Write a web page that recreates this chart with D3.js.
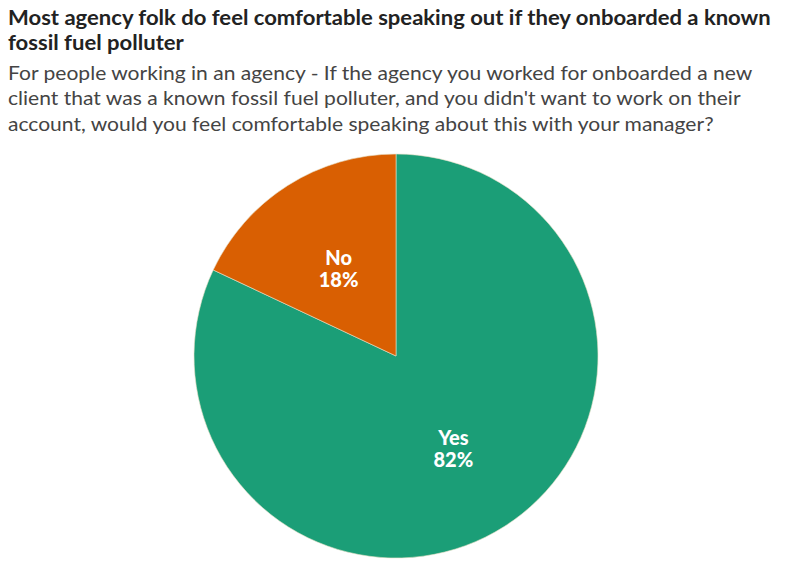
<!DOCTYPE html>
<html><head><meta charset="utf-8">
<script src="https://cdn.jsdelivr.net/npm/d3@7"></script>
<style>body{margin:0;background:#fff;} svg{display:block;}</style>
</head><body>
<svg id="chart" width="787" height="566"></svg>
<script>
const categories = ["Yes", "No"];
const values = [82, 18];
const colors = ["#1b9e77", "#d95f02"];
const titleLines = ["Most agency folk do feel comfortable speaking out if they onboarded a known", "fossil fuel polluter"];
const subtitleLines = ["For people working in an agency - If the agency you worked for onboarded a new",
  "client that was a known fossil fuel polluter, and you didn't want to work on their",
  "account, would you feel comfortable speaking about this with your manager?"];

const svg = d3.select("#chart");
const font = "'Lato', 'Noto Sans', sans-serif";

// Title block: fixed height font, horizontally condensed to match the reference width
function block(lines, x, y0, lh, fs, weight, fill, targetW) {
  const g = svg.append("g");
  const texts = lines.map((t, i) => g.append("text").attr("x", 0).attr("y", y0 + i * lh)
    .attr("font-family", font).attr("font-weight", weight).attr("font-size", fs)
    .attr("fill", fill).text(t));
  const w = texts[0].node().getComputedTextLength();
  const sx = targetW / w;
  g.attr("transform", `translate(${x},0) scale(${sx},1)`);
  return g;
}
block(titleLines, 8, 25, 25, 20, "bold", "#222", 763);
block(subtitleLines, 8, 80, 25.5, 19.5, "normal", "#444", 745);

// Pie
const cx = 396, cy = 356, r = 202;
const data = categories.map((c, i) => ({cat: c, value: values[i], color: colors[i]}));
const pie = d3.pie().value(d => d.value).sort(null);
const arc = d3.arc().innerRadius(0).outerRadius(r);
const labelArc = d3.arc().innerRadius(r * 0.53).outerRadius(r * 0.53);
const g = svg.append("g").attr("transform", `translate(${cx},${cy})`);
const arcs = pie(data);
g.selectAll("path").data(arcs).join("path")
  .attr("d", arc).attr("fill", d => d.data.color)
  .attr("stroke", "#e8e0c8").attr("stroke-width", 0.6);
const lab = g.selectAll("g.lab").data(arcs).join("g").attr("class", "lab")
  .attr("transform", d => `translate(${labelArc.centroid(d)})`);
lab.append("text").attr("text-anchor", "middle").attr("y", -1)
  .attr("font-family", font).attr("font-weight", "900").attr("font-size", 20)
  .attr("fill", "#fff").text(d => d.data.cat);
lab.append("text").attr("text-anchor", "middle").attr("y", 21)
  .attr("font-family", font).attr("font-weight", "900").attr("font-size", 20)
  .attr("fill", "#fff").text(d => d.data.value + "%");
</script>
</body></html>
